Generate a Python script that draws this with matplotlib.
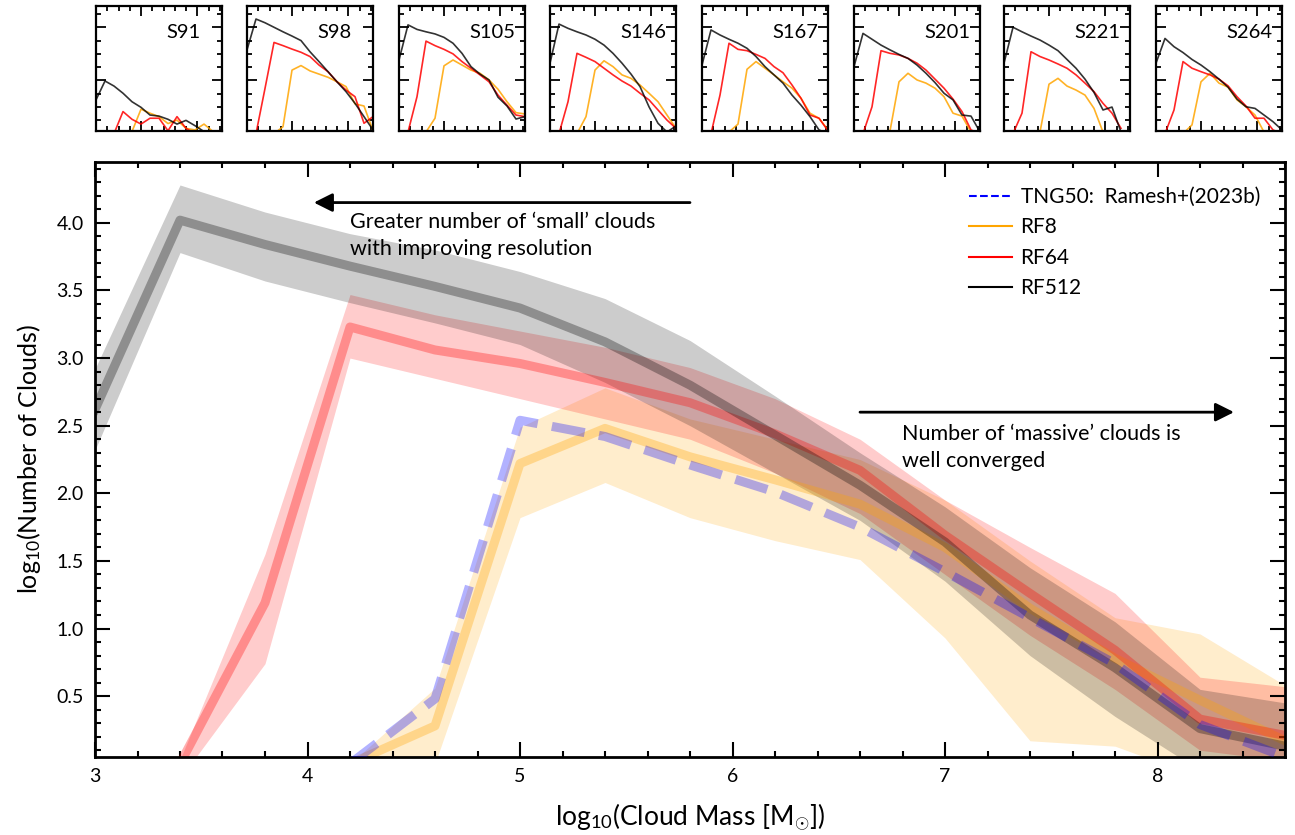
import numpy as np
import matplotlib
matplotlib.use('Agg')
import matplotlib.pyplot as plt
from matplotlib.lines import Line2D
from matplotlib.ticker import MultipleLocator

plt.rcParams['font.family'] = ['Lato', 'DejaVu Sans']
plt.rcParams['mathtext.fontset'] = 'custom'
plt.rcParams['mathtext.rm'] = 'Lato'
plt.rcParams['mathtext.it'] = 'Lato:italic'
plt.rcParams['mathtext.bf'] = 'Lato:bold'

nan = np.nan

# cloud mass bins, log10(M / Msun)
mass_bins = [3.0, 3.4, 3.8, 4.2, 4.6, 5.0, 5.4, 5.8, 6.2, 6.6, 7.0, 7.4, 7.8, 8.2, 8.6]

# median log10(N) over snapshots, with 16-84 percentile bands
tng50_med = [nan, nan, nan, 0.0, 0.48, 2.54, 2.42, 2.21, 2.01, 1.75, 1.42, 1.08, 0.74, 0.29, 0.05]

rf8_med = [nan, nan, nan, 0.0, 0.28, 2.22, 2.48, 2.27, 2.10, 1.92, 1.60, 1.15, 0.78, 0.47, 0.17]
rf8_hi = [nan, nan, nan, 0.0, 0.56, 2.49, 2.78, 2.55, 2.40, 2.25, 1.95, 1.50, 1.08, 0.96, 0.58]
rf8_lo = [nan, nan, nan, -0.3, 0.0, 1.82, 2.08, 1.82, 1.65, 1.51, 0.93, 0.17, 0.13, -0.1, -0.2]

rf64_med = [nan, 0.0, 1.19, 3.23, 3.06, 2.96, 2.82, 2.67, 2.44, 2.17, 1.69, 1.26, 0.84, 0.33, 0.21]
rf64_hi = [nan, 0.03, 1.55, 3.47, 3.32, 3.20, 3.08, 2.93, 2.70, 2.40, 1.95, 1.60, 1.26, 0.64, 0.57]
rf64_lo = [nan, -0.11, 0.74, 3.00, 2.85, 2.70, 2.55, 2.40, 2.15, 1.85, 1.40, 0.95, 0.55, 0.10, 0.02]

rf512_med = [2.62, 4.02, 3.84, 3.68, 3.53, 3.37, 3.12, 2.80, 2.43, 2.06, 1.64, 1.10, 0.71, 0.26, 0.13]
rf512_hi = [2.92, 4.28, 4.08, 3.92, 3.80, 3.64, 3.44, 3.13, 2.72, 2.30, 1.90, 1.45, 1.05, 0.55, 0.45]
rf512_lo = [2.32, 3.78, 3.57, 3.41, 3.26, 3.10, 2.82, 2.50, 2.15, 1.80, 1.35, 0.80, 0.35, -0.05, -0.2]

# individual snapshots
snapshots = ['S91', 'S98', 'S105', 'S146', 'S167', 'S201', 'S221', 'S264']

snap_rf512 = [
    [1.27, 1.98, 1.79, 1.52, 1.20, 0.99, 0.70, 0.66, 0.54, 0.36, 0.50, 0.30, 0.08, nan, nan],
    [3.15, 4.31, 4.17, 4.00, 3.83, 3.67, 3.50, 3.08, 2.71, 2.33, 1.95, 1.58, 1.14, 0.64, 0.14],
    [2.77, 4.09, 3.92, 3.83, 3.75, 3.62, 3.40, 3.02, 2.52, 2.24, 2.02, 1.37, 1.04, 0.55, 0.64],
    [2.65, 4.12, 3.96, 3.83, 3.71, 3.55, 3.33, 3.02, 2.65, 2.24, 1.77, 1.01, 0.39, 0.06, 0.29],
    [2.58, 3.90, 3.71, 3.55, 3.40, 3.21, 2.90, 2.52, 2.21, 1.90, 1.45, 1.07, 0.64, 0.14, 0.0],
    [2.52, 3.77, 3.55, 3.33, 3.15, 2.98, 2.83, 2.58, 2.27, 1.92, 1.52, 1.27, 0.70, 0.66, 0.06],
    [2.65, 4.00, 3.83, 3.67, 3.52, 3.33, 3.12, 2.79, 2.46, 2.05, 1.55, 0.89, 1.00, 0.06, nan],
    [2.65, 3.58, 3.27, 3.05, 2.79, 2.58, 2.33, 2.05, 1.75, 1.30, 1.01, 0.95, 0.70, 0.45, 0.14],
]
snap_rf64 = [
    [nan, nan, 0.0, 0.83, 0.54, 0.36, 0.58, 0.58, 0.11, 0.64, 0.20, 0.0, nan, nan, nan],
    [nan, 0.0, 1.70, 3.43, 3.31, 3.18, 3.06, 2.90, 2.58, 2.33, 1.95, 1.64, 1.39, 0.39, 0.64],
    [nan, 0.06, 1.39, 3.48, 3.31, 3.17, 3.00, 2.71, 2.46, 2.21, 1.95, 1.45, 1.07, 0.70, 0.64],
    [nan, 0.0, 1.20, 3.02, 2.87, 2.71, 2.46, 2.21, 1.98, 1.79, 1.52, 1.27, 0.89, 0.51, 0.20],
    [nan, 0.0, 1.45, 3.40, 3.17, 3.12, 2.98, 2.83, 2.52, 2.29, 1.83, 1.33, 0.70, 0.58, 0.11],
    [nan, 0.0, 1.01, 3.12, 3.02, 2.96, 2.83, 2.65, 2.39, 2.05, 1.71, 1.30, 0.83, 0.14, 0.0],
    [nan, 0.0, 0.77, 3.08, 2.90, 2.77, 2.62, 2.46, 2.21, 1.90, 1.58, 1.14, 0.77, 0.20, nan],
    [nan, 0.0, 0.89, 2.71, 2.46, 2.33, 2.21, 2.05, 1.80, 1.39, 1.04, 0.58, 0.58, 0.14, 0.0],
]
snap_rf8 = [
    [nan, nan, nan, nan, 0.08, 0.92, 0.77, 0.64, 0.38, 0.51, 0.20, 0.14, 0.36, 0.08, nan],
    [nan, nan, nan, 0.0, 0.26, 2.39, 2.56, 2.36, 2.24, 2.12, 1.95, 1.77, 1.12, 1.04, 0.11],
    [nan, nan, nan, 0.06, 0.58, 2.55, 2.77, 2.58, 2.39, 2.27, 2.02, 1.67, 1.20, 0.79, 0.74],
    [nan, nan, nan, 0.0, 0.64, 2.39, 2.74, 2.52, 2.21, 2.08, 1.83, 1.52, 1.20, 0.70, 0.20],
    [nan, nan, nan, 0.06, 0.36, 2.42, 2.71, 2.46, 2.21, 1.95, 1.71, 1.33, 0.77, 0.58, 0.14],
    [nan, nan, nan, nan, 0.10, 1.95, 2.27, 2.02, 1.90, 1.71, 1.39, 0.77, 0.66, 0.06, 0.0],
    [nan, nan, nan, nan, 0.06, 1.86, 2.08, 1.79, 1.64, 1.45, 0.95, 0.06, nan, nan, nan],
    [nan, nan, nan, 0.0, 0.33, 1.95, 2.27, 1.90, 1.75, 1.27, 1.01, 0.70, 0.06, nan, nan],
]

fig = plt.figure(figsize=(12.95, 8.35), dpi=100)
ax = fig.add_axes([95 / 1295, 1 - 757 / 835, 1190 / 1295, 595 / 835])

ax.plot(mass_bins, tng50_med, color='blue', ls='--', lw=6.5, alpha=0.3, zorder=3)
ax.fill_between(mass_bins, rf8_lo, rf8_hi, color='orange', alpha=0.2, lw=0)
ax.plot(mass_bins, rf8_med, color='orange', lw=6.5, alpha=0.32)
ax.fill_between(mass_bins, rf64_lo, rf64_hi, color='red', alpha=0.2, lw=0)
ax.plot(mass_bins, rf64_med, color='red', lw=6.5, alpha=0.31)
ax.fill_between(mass_bins, rf512_lo, rf512_hi, color='black', alpha=0.2, lw=0)
ax.plot(mass_bins, rf512_med, color='black', lw=6.5, alpha=0.3)

ax.set_xlim(3, 8.6)
ax.set_ylim(0.05, 4.45)
ax.xaxis.set_major_locator(MultipleLocator(1))
ax.xaxis.set_minor_locator(MultipleLocator(0.2))
ax.yaxis.set_major_locator(MultipleLocator(0.5))
ax.yaxis.set_minor_locator(MultipleLocator(0.1))
ax.tick_params(which='both', direction='in', top=True, right=True, width=1.5)
ax.tick_params(which='major', length=11, labelsize=14, pad=8)
ax.tick_params(which='minor', length=4.5)
for s in ax.spines.values():
    s.set_linewidth(2)

ax.set_xlabel(r'log$_{10}$(Cloud Mass [M$_{\odot}$])', fontsize=19, labelpad=12)
ax.set_ylabel(r'log$_{10}$(Number of Clouds)', fontsize=18, labelpad=10)

ax.annotate('', xy=(4.03, 4.15), xytext=(5.8, 4.15),
            arrowprops=dict(arrowstyle='-|>', color='k', lw=2, mutation_scale=28,
                            shrinkA=0, shrinkB=0))
ax.text(4.2, 4.08, 'Greater number of ‘small’ clouds\nwith improving resolution',
        fontsize=15.5, va='top', ha='left', linespacing=1.42)
ax.annotate('', xy=(8.36, 2.6), xytext=(6.6, 2.6),
            arrowprops=dict(arrowstyle='-|>', color='k', lw=2, mutation_scale=28,
                            shrinkA=0, shrinkB=0))
ax.text(6.8, 2.51, 'Number of ‘massive’ clouds is\nwell converged',
        fontsize=15.5, va='top', ha='left', linespacing=1.42)

handles = [Line2D([], [], color='blue', ls='--', lw=1.5),
           Line2D([], [], color='orange', lw=1.5),
           Line2D([], [], color='red', lw=1.5),
           Line2D([], [], color='black', lw=1.5)]
ax.legend(handles, ['TNG50:  Ramesh+(2023b)', 'RF8', 'RF64', 'RF512'],
          loc='upper right', frameon=False, fontsize=15, handlelength=2.1,
          handletextpad=0.4, labelspacing=0.5, borderaxespad=0.8)

# one small panel per snapshot along the top
inset_left = [96, 247, 399, 550, 702, 854, 1004, 1156]
for i, name in enumerate(snapshots):
    axi = fig.add_axes([inset_left[i] / 1295, 1 - 131 / 835, 126 / 1295, 125 / 835])
    axi.plot(mass_bins, snap_rf8[i], color='orange', lw=1.2, alpha=0.85)
    axi.plot(mass_bins, snap_rf64[i], color='red', lw=1.2, alpha=0.85)
    axi.plot(mass_bins, snap_rf512[i], color='black', lw=1.2, alpha=0.8)
    axi.set_xlim(3, 8.6)
    axi.set_ylim(0.1, 4.8)
    axi.xaxis.set_major_locator(MultipleLocator(2.5))
    axi.xaxis.set_minor_locator(MultipleLocator(0.5))
    axi.yaxis.set_major_locator(MultipleLocator(2))
    axi.yaxis.set_minor_locator(MultipleLocator(0.5))
    axi.tick_params(which='both', direction='in', top=True, right=True,
                    labelbottom=False, labelleft=False, width=1.3)
    axi.tick_params(which='major', length=7)
    axi.tick_params(which='minor', length=3.5)
    for s in axi.spines.values():
        s.set_linewidth(1.6)
    axi.text(0.555, 0.785, name, transform=axi.transAxes, ha='left', va='center',
             fontsize=14.5)

fig.savefig('out.png', dpi=100)
